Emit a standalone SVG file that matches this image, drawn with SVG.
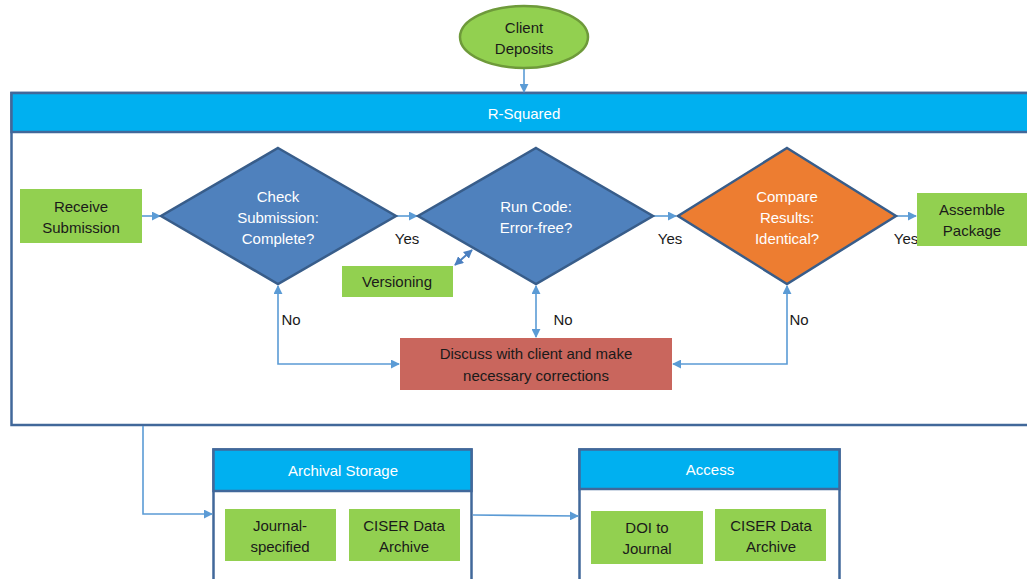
<svg xmlns="http://www.w3.org/2000/svg" width="1027" height="579" viewBox="0 0 1027 579">
<defs>
<marker id="ah" viewBox="0 0 10 10" refX="9" refY="5" markerWidth="9" markerHeight="9" markerUnits="userSpaceOnUse" orient="auto-start-reverse">
<path d="M0,0 L10,5 L0,10 z" fill="#5b9bd5"/>
</marker>
<marker id="ahd" viewBox="0 0 10 10" refX="9" refY="5" markerWidth="9" markerHeight="9" markerUnits="userSpaceOnUse" orient="auto-start-reverse">
<path d="M0,0 L10,5 L0,10 z" fill="#4a7fc0"/>
</marker>
</defs>
<style>
text{font-family:"Liberation Sans",Arial,sans-serif;font-size:15px;text-anchor:middle;dominant-baseline:central;}
.w{fill:#ffffff;}
.k{fill:#1a1a1a;}
.green{fill:#92d050;}
.frame{fill:#ffffff;stroke:#41689a;stroke-width:2.5;}
.hdr{fill:#00b0f0;stroke:#41689a;stroke-width:2.5;}
.dia{fill:#4f81bd;stroke:#385d8a;stroke-width:2.5;}
.dia2{fill:#ed7d31;stroke:#385d8a;stroke-width:2.5;}
.con{fill:none;stroke:#5b9bd5;stroke-width:1.6;}
</style>
<rect width="1027" height="579" fill="#ffffff"/>

<g id="r-squared">
<rect class="frame" x="11.5" y="93" width="1030" height="332"/>
<rect class="hdr" x="11.5" y="93" width="1030" height="39"/>
<text class="w" x="524" y="113">R-Squared</text>
</g>

<g id="archival-storage">
<rect class="frame" x="213.5" y="449.5" width="258" height="135"/>
<rect class="hdr" x="213.5" y="449.5" width="258" height="41.5"/>
<text class="w" x="343" y="470">Archival Storage</text>
</g>

<g id="access">
<rect class="frame" x="579.5" y="449.5" width="260" height="135"/>
<rect class="hdr" x="579.5" y="449.5" width="260" height="39.5"/>
<text class="w" x="710" y="469">Access</text>
</g>

<g id="connectors">
<line class="con" x1="524" y1="68" x2="524" y2="92" marker-end="url(#ah)"/>
<line class="con" x1="142" y1="216" x2="160" y2="216" marker-end="url(#ah)"/>
<line class="con" x1="396" y1="216" x2="417" y2="216" marker-end="url(#ah)"/>
<line class="con" x1="653" y1="216" x2="676" y2="216" marker-end="url(#ah)"/>
<line class="con" x1="896" y1="216" x2="916" y2="216" marker-end="url(#ah)"/>
<line x1="455" y1="265" x2="472" y2="250" stroke="#4a7fc0" stroke-width="2" marker-start="url(#ahd)" marker-end="url(#ahd)"/>
<polyline class="con" points="278,286 278,364 399,364" marker-start="url(#ah)" marker-end="url(#ah)"/>
<line class="con" x1="536" y1="286" x2="536" y2="337" marker-start="url(#ah)" marker-end="url(#ah)"/>
<polyline class="con" points="787,286 787,364 673,364" marker-start="url(#ah)" marker-end="url(#ah)"/>
<polyline class="con" points="143,426 143,514 212,514" marker-end="url(#ah)"/>
<line class="con" x1="473" y1="515" x2="578" y2="516" marker-end="url(#ah)"/>
<text class="k" x="407" y="238">Yes</text>
<text class="k" x="670" y="238">Yes</text>
<text class="k" x="906" y="238">Yes</text>
<text class="k" x="291" y="319">No</text>
<text class="k" x="563" y="319">No</text>
<text class="k" x="799" y="319">No</text>
</g>

<g id="client-deposits">
<ellipse cx="524" cy="37" rx="64" ry="31" fill="#92d050" stroke="#6e9a3a" stroke-width="2.5"/>
<text class="k" x="524" y="27">Client</text>
<text class="k" x="524" y="48">Deposits</text>
</g>

<g id="receive-submission">
<rect class="green" x="20" y="189" width="122" height="54"/>
<text class="k" x="81" y="206">Receive</text>
<text class="k" x="81" y="227">Submission</text>
</g>

<g id="check-submission">
<polygon class="dia" points="278,148 396,216 278,284 161,216"/>
<text class="w" x="278" y="196">Check</text>
<text class="w" x="278" y="217">Submission:</text>
<text class="w" x="278" y="238">Complete?</text>
</g>

<g id="run-code">
<polygon class="dia" points="536,148 653,216 536,284 418,216"/>
<text class="w" x="536" y="206">Run Code:</text>
<text class="w" x="536" y="227">Error-free?</text>
</g>

<g id="compare-results">
<polygon class="dia2" points="787,148 896,216 787,284 678,216"/>
<text class="w" x="787" y="196">Compare</text>
<text class="w" x="787" y="217">Results:</text>
<text class="w" x="787" y="238">Identical?</text>
</g>

<g id="assemble-package">
<rect class="green" x="917" y="193" width="115" height="53"/>
<text class="k" x="972" y="209">Assemble</text>
<text class="k" x="972" y="230">Package</text>
</g>

<g id="versioning">
<rect class="green" x="342" y="266" width="111" height="31"/>
<text class="k" x="397" y="281">Versioning</text>
</g>

<g id="discuss">
<rect x="400" y="338" width="272" height="52" fill="#c9665d"/>
<text class="k" x="536" y="353">Discuss with client and make</text>
<text class="k" x="536" y="375">necessary corrections</text>
</g>

<g id="journal-specified">
<rect class="green" x="225" y="509" width="111" height="52"/>
<text class="k" x="280" y="525">Journal-</text>
<text class="k" x="280" y="546">specified</text>
</g>

<g id="ciser-archive-1">
<rect class="green" x="349" y="509" width="111" height="52"/>
<text class="k" x="404" y="525">CISER Data</text>
<text class="k" x="404" y="546">Archive</text>
</g>

<g id="doi-to-journal">
<rect class="green" x="591" y="511" width="112" height="53"/>
<text class="k" x="647" y="527">DOI to</text>
<text class="k" x="647" y="548">Journal</text>
</g>

<g id="ciser-archive-2">
<rect class="green" x="715" y="509" width="111" height="52"/>
<text class="k" x="771" y="525">CISER Data</text>
<text class="k" x="771" y="546">Archive</text>
</g>
</svg>
